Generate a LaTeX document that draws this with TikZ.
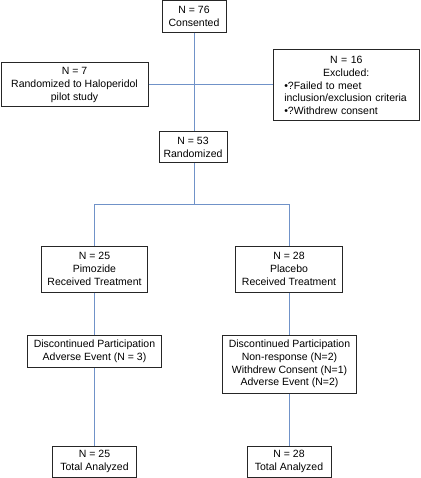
\documentclass[tikz,border=0pt]{standalone}
\usepackage{fontspec}
\setmainfont{Liberation Sans}
\definecolor{linec}{RGB}{112,146,200}
\begin{document}
\begin{tikzpicture}[x=1pt,y=-1pt,
  box/.style={draw=black!85,line width=1pt,align=center,inner sep=0pt,
    font=\fontsize{10.5}{12.7}\selectfont},
  conn/.style={draw=linec,line width=1pt}]
\useasboundingbox (0,0) rectangle (420,478);
% boxes
\node[box,minimum width=64pt,minimum height=31.5pt] (cons) at (194,16.5) {N = 76\\Consented};
\node[box,minimum width=147pt,minimum height=44pt] (halo) at (74.5,85) {N = 7\\Randomized to Haloperidol\\pilot study};
\node[box,minimum width=146pt,minimum height=71pt,text width=134pt,align=left] (excl) at (346.25,85.5)
  {\centering N = 16\\Excluded:\par\raggedright
   \hspace*{5pt}•?Failed to meet\\
   \hspace*{5pt}inclusion/exclusion criteria\\
   \hspace*{5pt}•?Withdrew consent\par};
\node[box,minimum width=68pt,minimum height=31pt] (rand) at (193,147.5) {N = 53\\Randomized};
\node[box,minimum width=106pt,minimum height=46pt] (pim) at (94.5,269) {N = 25\\Pimozide\\Received Treatment};
\node[box,minimum width=107pt,minimum height=46pt] (plac) at (289,269) {N = 28\\Placebo\\Received Treatment};
\node[box,minimum width=134pt,minimum height=32pt] (disc1) at (94.5,351) {Discontinued Participation\\Adverse Event (N = 3)};
\node[box,minimum width=134pt,minimum height=58pt] (disc2) at (289.5,364) {Discontinued Participation\\Non-response (N=2)\\Withdrew Consent (N=1)\\Adverse Event (N=2)};
\node[box,minimum width=84pt,minimum height=31pt] (tot1) at (94.5,461.5) {N = 25\\Total Analyzed};
\node[box,minimum width=84pt,minimum height=31pt] (tot2) at (289,461.5) {N = 28\\Total Analyzed};
% connectors
\coordinate (split) at (194,204);
\draw[conn] (cons.south) -- (cons.south |- rand.north);
\draw[conn] (halo.east) -- (excl.west |- halo.east);
\draw[conn] (rand.south -| cons.south) -- (split);
\draw[conn] (pim.north |- split) -- (plac.north |- split);
\draw[conn] (pim.north |- split) -- (pim.north);
\draw[conn] (plac.north |- split) -- (plac.north);
\draw[conn] (pim.south) -- (disc1.north);
\draw[conn] (disc1.south) -- (tot1.north);
\draw[conn] (plac.south) -- (disc2.north -| plac.south);
\draw[conn] (disc2.south -| plac.south) -- (tot2.north -| plac.south);
\end{tikzpicture}
\end{document}
